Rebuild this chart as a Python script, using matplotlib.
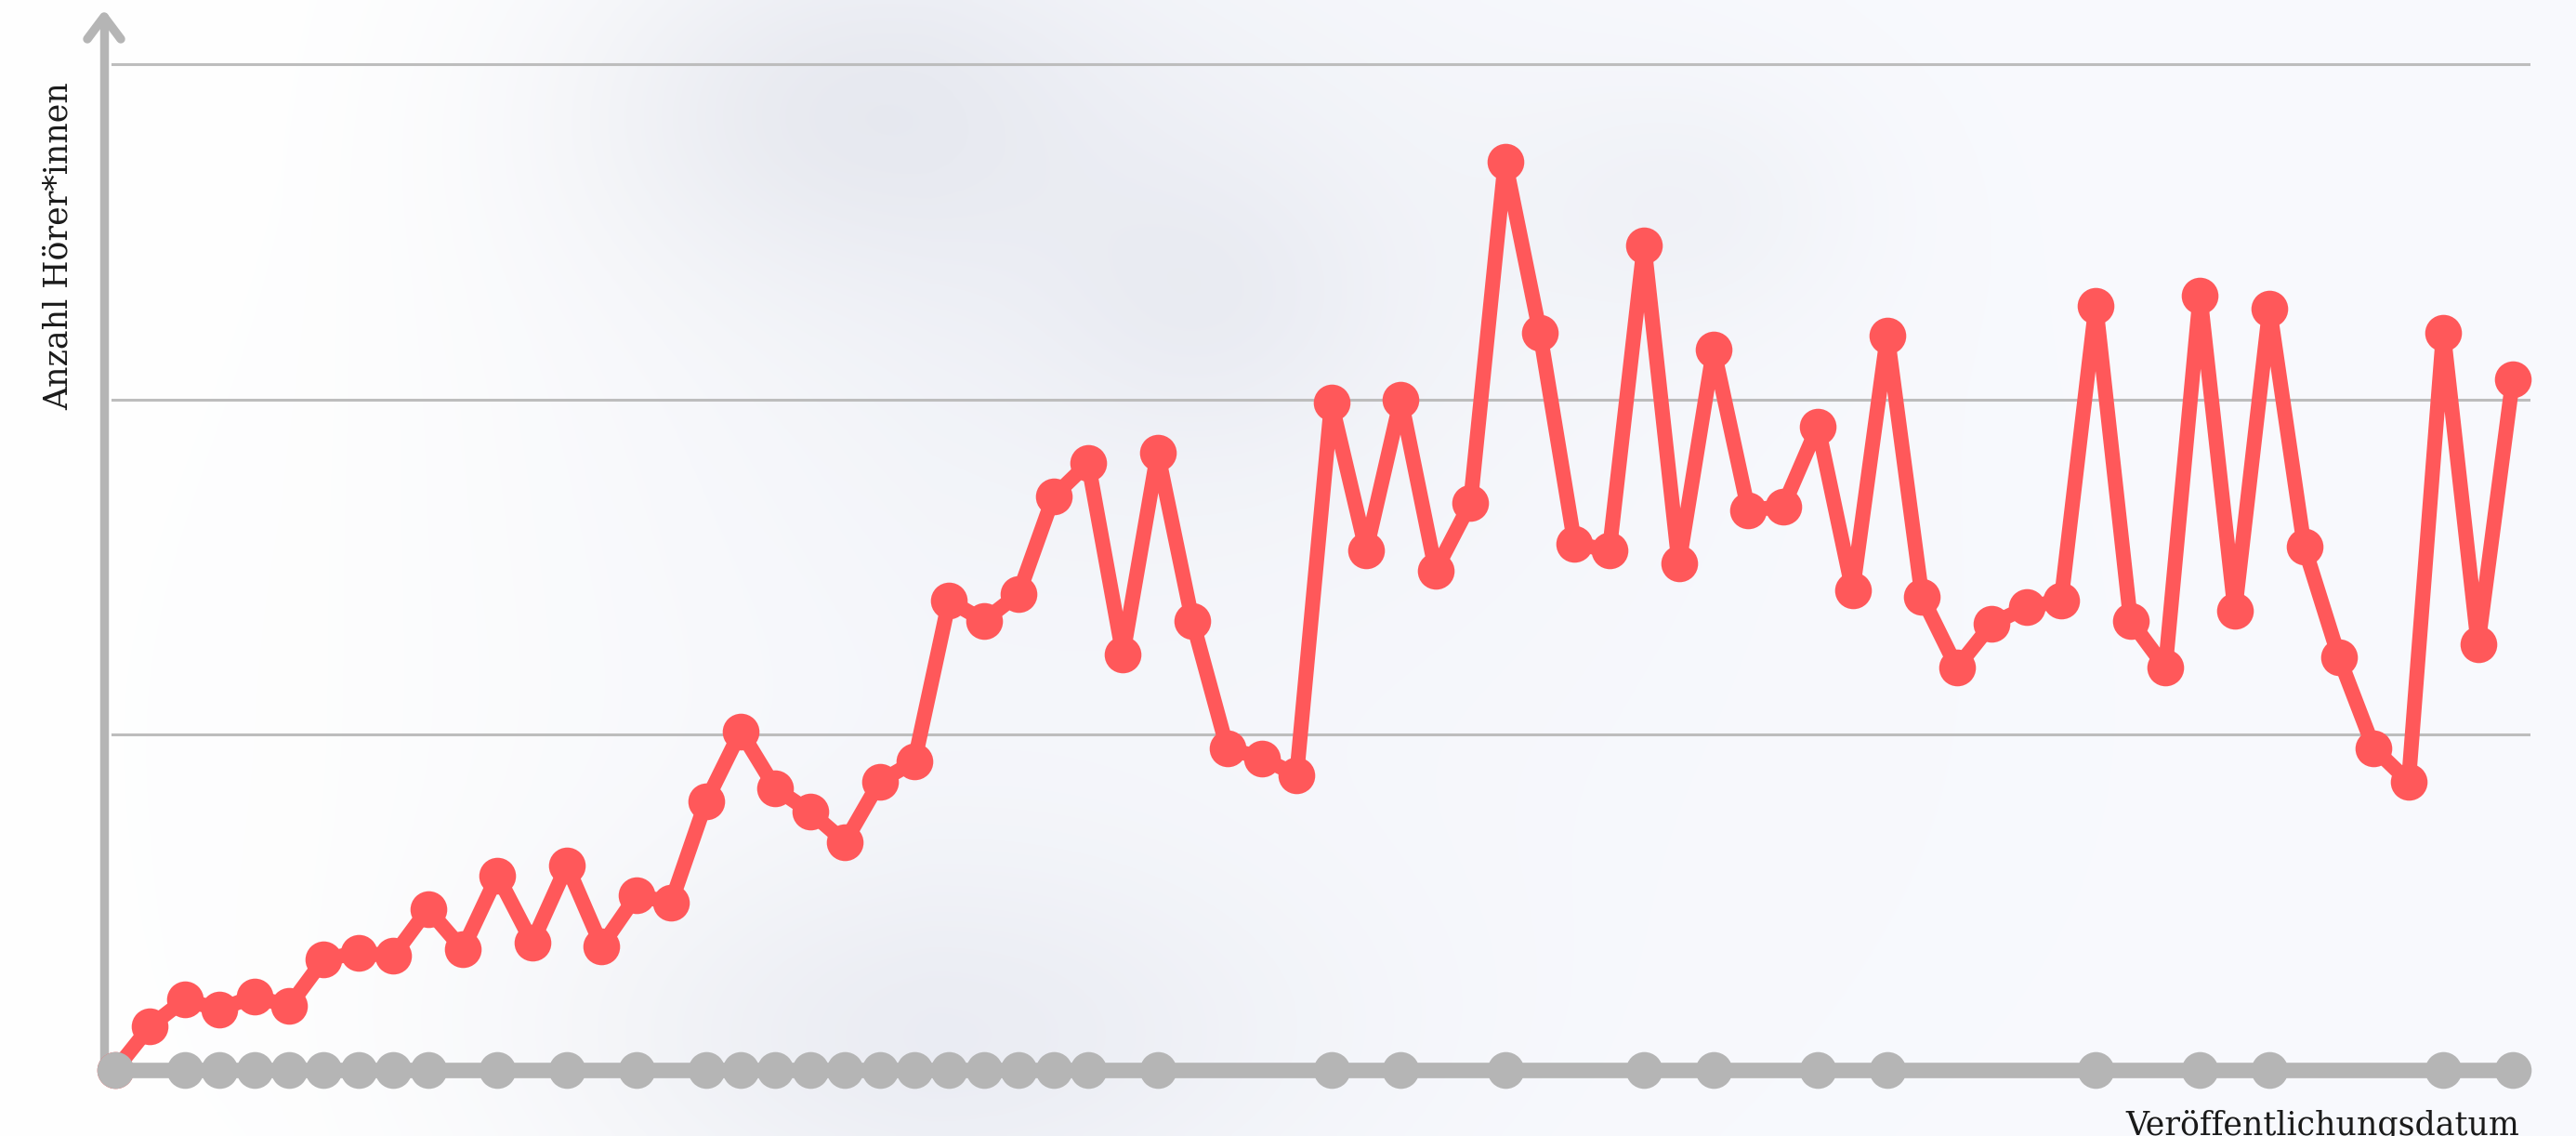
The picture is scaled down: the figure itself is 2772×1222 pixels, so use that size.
import numpy as np
import matplotlib
matplotlib.use("Agg")
import matplotlib.pyplot as plt

# ---------------- data ----------------
# episode index (publication order) and listeners (relative units, gridlines every 100)
listeners = [0, 13, 21, 18, 22, 19, 33, 35, 34, 48,
             36, 58, 38, 61, 37, 52, 50, 80, 101, 84,
             77, 68, 86, 92, 140, 134, 142, 171, 181, 124,
             184, 134, 96, 93, 88, 199, 155, 200, 149, 169,
             271, 220, 157, 155, 246, 151, 215, 167, 168, 192,
             143, 219, 141, 120, 133, 138, 140, 228, 134, 120,
             231, 137, 227, 156, 123, 96, 86, 220, 127, 206]
episodes = list(range(len(listeners)))

# episodes marked on the time axis (grey dots)
marked_episodes = [0, 2, 3, 4, 5, 6, 7, 8, 9, 11, 13, 15, 17, 18, 19, 20, 21,
                   22, 23, 24, 25, 26, 27, 28, 30, 35, 37, 40, 44, 46, 49, 51,
                   57, 60, 62, 67, 69]
marked_values = [0] * len(marked_episodes)

grid_values = [100, 200, 300]

y_label = "Anzahl Hörer*innen"
x_label = "Veröffentlichungsdatum"

# ---------------- style ----------------
RED = "#FF585A"
GREY = "#B5B5B5"
GRID = "#BDBDBD"
W, H = 2772, 1222
DPI = 100

fig = plt.figure(figsize=(W / DPI, H / DPI), dpi=DPI)
fig.patch.set_facecolor("white")

# soft marble-like background
bg = fig.add_axes([0, 0, 1, 1], zorder=-10)
yy, xx = np.mgrid[0:H:4, 0:W:4].astype(float)
shade = np.zeros_like(xx)
blobs = [
    (900, 110, 200, 130, 0.26),
    (1200, 250, 380, 260, 0.14),
    (1300, 320, 130, 110, 0.14),
    (1000, 1120, 280, 140, 0.24),
    (1820, 220, 130, 100, 0.12),
    (1100, 800, 700, 420, 0.05),
]
for cx, cy, sx, sy, a in blobs:
    shade += a * np.exp(-(((xx - cx) / sx) ** 2 + ((yy - cy) / sy) ** 2) / 2)
shade = np.clip(shade, 0, 0.6)
base = np.array([1.0, 1.0, 1.0])
dark = np.array([0.80, 0.81, 0.85])
img = base[None, None, :] * (1 - shade[..., None]) + dark[None, None, :] * shade[..., None]
# faint blue tint, fading toward the left edge
tint = np.array([0.975, 0.98, 0.995])
fade = np.clip((xx - 300) / 700, 0, 1)[..., None]
img = img * (1 - fade * (1 - tint[None, None, :]))
bg.imshow(img, extent=[0, W, H, 0], aspect="auto", interpolation="bilinear")
bg.set_xlim(0, W)
bg.set_ylim(H, 0)
bg.axis("off")

# ---------------- main axes ----------------
ax_left_px, ax_right_px = 112, 2723
base_px, top_grid_px, tip_px = 1151, 69, 18
first_px, last_px = 124, 2704

unit_x = (last_px - first_px) / (len(listeners) - 1)
x0 = -(first_px - ax_left_px) / unit_x
x1 = (len(listeners) - 1) + (ax_right_px - last_px) / unit_x
unit_y = (base_px - top_grid_px) / grid_values[-1]
ytop = grid_values[-1] + (top_grid_px - tip_px) / unit_y

ax = fig.add_axes([ax_left_px / W, (H - base_px) / H,
                   (ax_right_px - ax_left_px) / W, (base_px - tip_px) / H])
ax.set_facecolor("none")
ax.set_xlim(x0, x1)
ax.set_ylim(0, ytop)
for s in ["top", "right", "bottom"]:
    ax.spines[s].set_visible(False)
ax.spines["left"].set_color(GREY)
ax.spines["left"].set_linewidth(6.8)
ax.spines["left"].set_capstyle("round")
ax.set_xticks([])
ax.set_yticks([])

for g in grid_values:
    ax.axhline(g, xmin=(9 / (ax_right_px - ax_left_px)), xmax=1, color=GRID,
               lw=2.2, zorder=1)

# arrow head on y axis
dx = 18 / unit_x
dy = 24 / unit_y
ax.plot([x0 - dx, x0, x0 + dx], [ytop - dy, ytop, ytop - dy], color=GREY,
        lw=6.8, solid_capstyle="round", solid_joinstyle="round", clip_on=False,
        zorder=3)

ax.plot(episodes, listeners, color=RED, lw=11.5, marker="o", markersize=28.5,
        markeredgewidth=0, solid_joinstyle="round", clip_on=False, zorder=4)
ax.plot(marked_episodes, marked_values, color=GREY, lw=12, marker="o",
        markersize=28.5, markeredgewidth=0, clip_on=False, zorder=5)

font = ["DejaVu Serif"]
fig.text(63 / W, 1 - 88 / H, y_label, rotation=90, ha="center", va="top",
         fontsize=25, family=font, color="#1a1a1a")
fig.text(2711 / W, (H - 1220) / H, x_label, ha="right", va="baseline",
         fontsize=25, family=font, color="#1a1a1a")

fig.savefig("out.png", dpi=DPI)
